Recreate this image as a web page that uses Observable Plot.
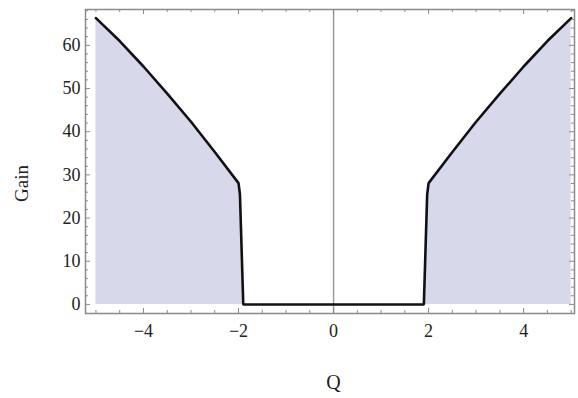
<!DOCTYPE html>
<html>
<head>
<meta charset="utf-8">
<script src="https://cdn.jsdelivr.net/npm/d3@7"></script>
<script src="https://cdn.jsdelivr.net/npm/@observablehq/plot@0.6"></script>
<style>
  html, body { margin: 0; padding: 0; background: white; }
  svg text { font-family: 'Liberation Serif', 'Times New Roman', serif; }
</style>
</head>
<body>
<div id="chart"></div>
<script>
// Curve samples
const q    = [-5.0, -4.5, -4.0, -3.5, -3.0, -2.5, -2.0, -1.97, -1.9, 1.9, 1.97, 2.0, 2.5, 3.0, 3.5, 4.0, 4.5, 5.0];
const gain = [66.3, 61.0, 55.1, 48.8, 42.3, 35.3, 28.1, 25.5, 0, 0, 25.5, 28.1, 35.3, 42.3, 48.8, 55.1, 61.0, 66.3];

// Tick labels
const xTicks = [-4, -2, 0, 2, 4];
const yTicks = [0, 10, 20, 30, 40, 50, 60];
const xMinor = d3.range(-5, 5.01, 0.5).filter(v => !xTicks.includes(v));
const yMinor = d3.range(0, 68.1, 2).filter(v => !yTicks.includes(v));

const data = q.map((v, i) => ({q: v, g: gain[i]}));

const W = 578, H = 398;
const mL = 85, mR = 4, mT = 9, mB = 85;
const fw = W - mL - mR, fh = H - mT - mB;
const frameColor = "#8a8a8a";

const chart = Plot.plot({
  width: W,
  height: H,
  marginLeft: mL,
  marginRight: mR,
  marginTop: mT,
  marginBottom: mB,
  style: {fontFamily: "'Liberation Serif', 'Times New Roman', serif", fontSize: "18px", background: "white", color: "#222"},
  x: {domain: [-5.22, 5.07]},
  y: {domain: [-2.1, 68.3]},
  marks: [
    Plot.areaY(data, {x: "q", y: "g", fill: "#d8d8eb"}),
    Plot.ruleX([0], {stroke: "#9a9a9a", strokeWidth: 1.5}),
    Plot.line(data, {x: "q", y: "g", stroke: "#111", strokeWidth: 2.6, strokeLinejoin: "miter"}),
    Plot.frame({stroke: frameColor, strokeWidth: 1.5}),
    // inward ticks: bottom & top
    Plot.tickX(xTicks, {x: d => d, insetTop: fh - 5, stroke: frameColor}),
    Plot.tickX(xMinor, {x: d => d, insetTop: fh - 3, stroke: frameColor}),
    Plot.tickX(xTicks, {x: d => d, insetBottom: fh - 5, stroke: frameColor}),
    Plot.tickX(xMinor, {x: d => d, insetBottom: fh - 3, stroke: frameColor}),
    // inward ticks: left & right
    Plot.tickY(yTicks, {y: d => d, insetRight: fw - 5, stroke: frameColor}),
    Plot.tickY(yMinor, {y: d => d, insetRight: fw - 3, stroke: frameColor}),
    Plot.tickY(yTicks, {y: d => d, insetLeft: fw - 5, stroke: frameColor}),
    Plot.tickY(yMinor, {y: d => d, insetLeft: fw - 3, stroke: frameColor}),
    Plot.axisX(xTicks, {tickSize: 0, tickPadding: 11, fontSize: "18px", label: null}),
    Plot.axisY(yTicks, {tickSize: 0, tickPadding: 5, fontSize: "18px", label: null}),
    Plot.text(["Q"], {x: 0, frameAnchor: "bottom", dy: 69, fontSize: 20, lineAnchor: "middle"}),
    Plot.text(["Gain"], {frameAnchor: "left", dx: -64, dy: 22, rotate: -90, fontSize: 19, textAnchor: "middle", lineAnchor: "middle"})
  ]
});

document.getElementById("chart").appendChild(chart);
</script>
</body>
</html>
